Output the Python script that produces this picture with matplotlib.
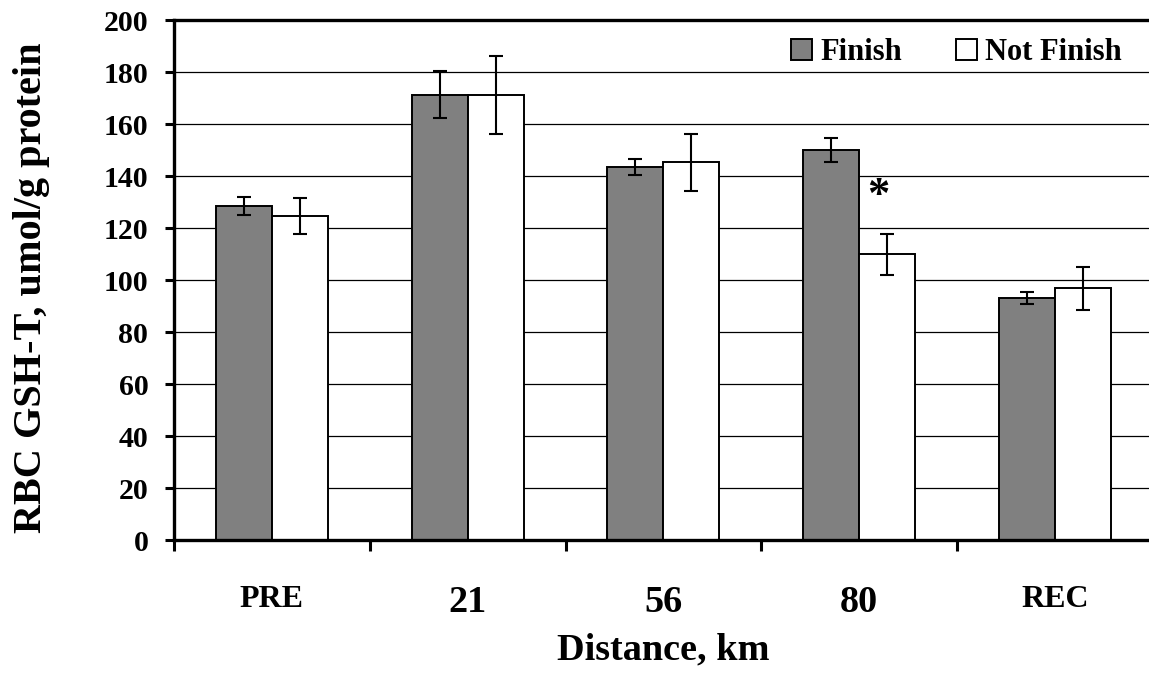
import matplotlib
matplotlib.use("Agg")
import matplotlib.pyplot as plt
import numpy as np

plt.rcParams['font.family'] = ['Liberation Serif', 'DejaVu Serif']
plt.rcParams['font.weight'] = 'bold'

categories = ["PRE", "21", "56", "80", "REC"]
finish = [128.5, 171.5, 143.8, 150.0, 93.1]
finish_err = [3.5, 9.0, 3.1, 4.6, 2.3]
not_finish = [124.7, 171.5, 145.5, 110.0, 97.0]
not_finish_err = [7.0, 15.0, 11.0, 8.0, 8.2]
yticks = [0, 20, 40, 60, 80, 100, 120, 140, 160, 180, 200]
cat_fontsizes = [23, 27.5, 27.5, 27.5, 23]

fig = plt.figure(figsize=(11.49, 6.75), dpi=100)
ax = fig.add_axes([0.1514, 0.1993, 0.852, 0.7704])

x = np.arange(len(categories))
w = 0.2857

b1 = ax.bar(x - w / 2, finish, w, color='#808080', edgecolor='black', linewidth=1.4,
            label='Finish', zorder=2)
b2 = ax.bar(x + w / 2, not_finish, w, color='white', edgecolor='black', linewidth=1.4,
            label='Not Finish', zorder=2)
ax.errorbar(x - w / 2, finish, yerr=finish_err, fmt='none', ecolor='black',
            elinewidth=1.5, capsize=5, capthick=1.5, zorder=3)
ax.errorbar(x + w / 2, not_finish, yerr=not_finish_err, fmt='none', ecolor='black',
            elinewidth=1.5, capsize=5, capthick=1.5, zorder=3)

# significance marker
ax.text(3 + 0.098, 132.5, '*', ha='center', va='center', fontsize=32,
        fontweight='bold', zorder=4)

ax.set_xlim(-0.5, 4.5)
ax.set_ylim(0, 200)
ax.set_yticks(yticks)
ax.set_yticklabels([str(v) for v in yticks])
ax.tick_params(axis='y', direction='out', length=6.5, width=2.2, labelsize=21.5, pad=12)

ax.set_xticks(x)
ax.set_xticklabels(categories)
ax.set_xticks(np.arange(-0.5, 5.0, 1.0), minor=True)
ax.tick_params(axis='x', which='major', length=0, pad=32)
ax.tick_params(axis='x', which='minor', direction='out', length=8, width=2.2)
for lbl, fs in zip(ax.get_xticklabels(), cat_fontsizes):
    lbl.set_fontsize(fs)
    lbl.set_fontweight('bold')
for lbl in ax.get_yticklabels():
    lbl.set_fontweight('bold')

ax.yaxis.grid(True, color='black', linewidth=0.9)
ax.set_axisbelow(True)

for s in ['left', 'bottom', 'top']:
    ax.spines[s].set_linewidth(2.4)
    ax.spines[s].set_color('black')
ax.spines['right'].set_visible(False)

ax.set_xlabel('Distance, km', fontsize=27.5, fontweight='bold', labelpad=9)
ax.set_ylabel('RBC GSH-T, umol/g protein', fontsize=29, fontweight='bold')
ax.yaxis.set_label_coords(50 / 1149, 1 - 288 / 675, transform=fig.transFigure)

leg = ax.legend(handles=[b1, b2], loc='center', bbox_to_anchor=(956.5 / 1149, 1 - 52.5 / 675),
                bbox_transform=fig.transFigure, ncol=2, frameon=False,
                prop={'family': 'Liberation Serif', 'weight': 'bold', 'size': 22},
                handlelength=0.69, handleheight=0.69, handletextpad=0.28,
                columnspacing=1.75, borderpad=0, borderaxespad=0)

fig.savefig('out.png', dpi=100)
